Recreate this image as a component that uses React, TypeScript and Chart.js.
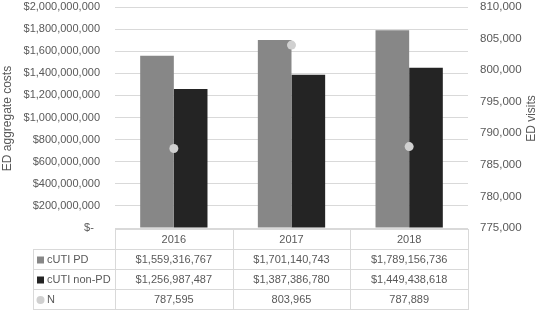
import React, { useEffect, useRef } from "react";
import { Chart, registerables } from "chart.js";

Chart.register(...registerables);

// ---- data ----
const categories = ["2016", "2017", "2018"];
const seriesNames = ["cUTI PD", "cUTI non-PD", "N"];
const pdCosts = [1559316767, 1701140743, 1789156736];
const nonPdCosts = [1256987487, 1387386780, 1449438618];
const edVisits = [787595, 803965, 787889];
const costAxis = { min: 0, max: 2000000000, step: 200000000 };
const visitAxis = { min: 775000, max: 810000, step: 5000 };
const leftTitle = "ED aggregate costs";
const rightTitle = "ED visits";

// ---- styles ----
const FONT = '"Liberation Sans", Arial, sans-serif';
const TEXT = "#595959";
const GRID = "#d9d9d9";
const PD_COLOR = "#878787";
const NONPD_COLOR = "#242424";
const N_COLOR = "#d0d0d0";
const CLEAR = "rgba(0,0,0,0)";

const nf = new Intl.NumberFormat("en-US");
const money = (v: number) => "$" + nf.format(v);

const tablePlugin = {
  id: "dataTable",
  afterDraw(chart: any) {
    const { ctx, chartArea } = chart;
    const left = chartArea.left;
    const right = chartArea.right;
    const colW = (right - left) / categories.length;
    const top = Math.round(chartArea.bottom) + 1;
    const rowH = 20;
    const legendLeft = 33;
    ctx.save();
    ctx.strokeStyle = GRID;
    ctx.lineWidth = 1;
    const line = (x0: number, y0: number, x1: number, y1: number) => {
      ctx.beginPath();
      ctx.moveTo(x0, y0);
      ctx.lineTo(x1, y1);
      ctx.stroke();
    };
    for (let r = 0; r <= 4; r++) {
      const y = top + r * rowH + 0.5;
      line(r === 0 ? left : legendLeft, y, right, y);
    }
    for (let c = 0; c <= categories.length; c++) {
      const x = Math.round(left + c * colW) + 0.5;
      line(x, top, x, top + 4 * rowH + 1);
    }
    line(legendLeft + 0.5, top + rowH, legendLeft + 0.5, top + 4 * rowH + 1);

    ctx.fillStyle = TEXT;
    ctx.font = `11px ${FONT}`;
    ctx.textBaseline = "middle";
    ctx.textAlign = "center";
    const rows: string[][] = [
      categories,
      pdCosts.map(money),
      nonPdCosts.map(money),
      edVisits.map((v) => nf.format(v)),
    ];
    rows.forEach((row, r) => {
      const cy = top + r * rowH + rowH / 2 + 1;
      row.forEach((t, c) => {
        ctx.fillText(t, left + c * colW + colW / 2, cy);
      });
    });
    // legend column
    ctx.textAlign = "left";
    const markColors = [PD_COLOR, NONPD_COLOR, N_COLOR];
    seriesNames.forEach((name, i) => {
      const cy = top + (i + 1) * rowH + rowH / 2 + 1;
      ctx.fillStyle = markColors[i];
      if (i < 2) {
        ctx.fillRect(37, cy - 3.5, 7, 7);
      } else {
        ctx.beginPath();
        ctx.arc(40.5, cy, 4, 0, Math.PI * 2);
        ctx.fill();
      }
      ctx.fillStyle = TEXT;
      ctx.fillText(name, 47, cy);
    });

    // axis titles
    const midY = (chartArea.top + chartArea.bottom) / 2 + 1;
    ctx.font = `12px ${FONT}`;
    ctx.textAlign = "center";
    ctx.fillStyle = TEXT;
    [
      [8, leftTitle],
      [532, rightTitle],
    ].forEach(([x, t]) => {
      ctx.save();
      ctx.translate(x as number, midY);
      ctx.rotate(-Math.PI / 2);
      ctx.fillText(t as string, 0, 0);
      ctx.restore();
    });
    ctx.restore();
  },
};

export default function App() {
  const ref = useRef<HTMLCanvasElement | null>(null);
  useEffect(() => {
    if (!ref.current) return;
    const chart = new Chart(ref.current, {
      type: "bar",
      data: {
        labels: categories,
        datasets: [
          {
            type: "line",
            label: seriesNames[2],
            data: edVisits,
            yAxisID: "y1",
            showLine: false,
            pointRadius: 4.5,
            pointBackgroundColor: N_COLOR,
            pointBorderWidth: 0,
            order: 0,
          } as any,
          {
            label: seriesNames[0],
            data: pdCosts,
            backgroundColor: PD_COLOR,
            yAxisID: "y",
            order: 1,
            categoryPercentage: 0.572,
            barPercentage: 1,
          },
          {
            label: seriesNames[1],
            data: nonPdCosts,
            backgroundColor: NONPD_COLOR,
            yAxisID: "y",
            order: 1,
            categoryPercentage: 0.572,
            barPercentage: 1,
          },
        ],
      },
      options: {
        responsive: false,
        animation: false,
        layout: { padding: { top: 7, bottom: 84, left: 0, right: 0 } },
        plugins: {
          legend: { display: false },
          tooltip: { enabled: false },
        },
        scales: {
          x: {
            display: false,
            offset: true,
          },
          y: {
            position: "left",
            min: costAxis.min,
            max: costAxis.max,
            border: { display: false },
            grid: { color: GRID, drawTicks: true, tickLength: 15, tickColor: CLEAR },
            ticks: {
              stepSize: costAxis.step,
              padding: 0,
              color: TEXT,
              font: { family: FONT, size: 11 },
              callback: (v: any) => (Number(v) === 0 ? "$-  " : money(Number(v))),
            },
            afterFit: (s: any) => {
              s.width = 115;
            },
          },
          y1: {
            position: "right",
            min: visitAxis.min,
            max: visitAxis.max,
            border: { display: false },
            grid: { drawOnChartArea: false, drawTicks: true, tickLength: 12, tickColor: CLEAR },
            ticks: {
              stepSize: visitAxis.step,
              padding: 0,
              color: TEXT,
              font: { family: FONT, size: 11.5 },
              callback: (v: any) => nf.format(Number(v)),
            },
            afterFit: (s: any) => {
              s.width = 72;
            },
          },
        },
      },
      plugins: [tablePlugin],
    });
    return () => chart.destroy();
  }, []);
  return (
    <div style={{ position: "absolute", left: 0, top: 0, width: 540, height: 312 }}>
      <canvas ref={ref} width={540} height={312} style={{ display: "block" }} />
    </div>
  );
}
